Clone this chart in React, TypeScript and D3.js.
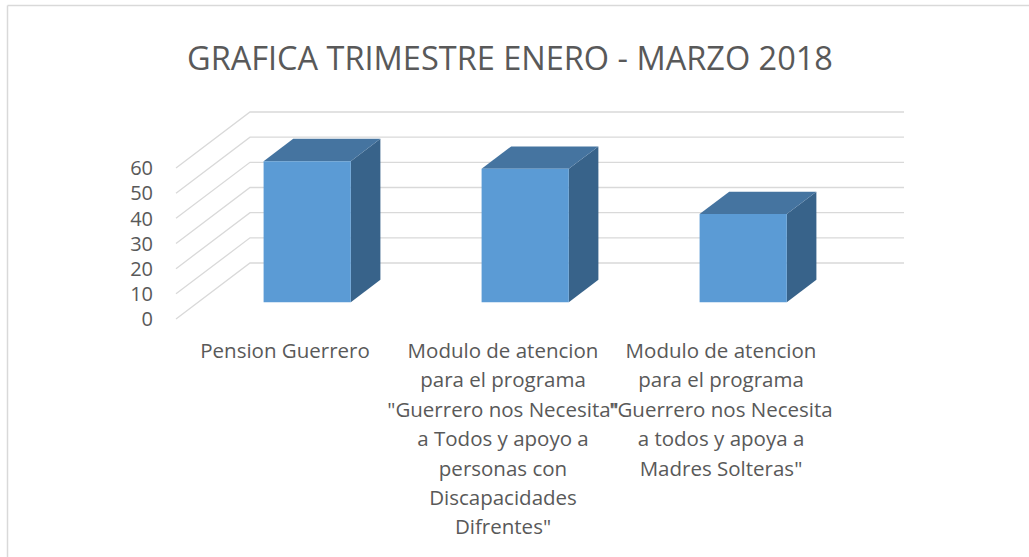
import * as React from "react";
import * as d3 from "d3";

const title = "GRAFICA TRIMESTRE ENERO - MARZO 2018";
const categories = ["Pension Guerrero", "Modulo Discapacidades", "Modulo Madres Solteras"];
const values = [56, 53, 35];
const yTicks = [0, 10, 20, 30, 40, 50, 60];
const categoryLabels = [
  ["Pension Guerrero"],
  [
    "Modulo de atencion",
    "para el programa",
    "\"Guerrero nos Necesita\"",
    "a Todos y apoyo a",
    "personas con",
    "Discapacidades",
    "Difrentes\"",
  ],
  [
    "Modulo de atencion",
    "para el programa",
    "\"Guerrero nos Necesita",
    "a todos y apoya a",
    "Madres Solteras\"",
  ],
];

const W = 1029;
const H = 557;
const font = "'Open Sans', sans-serif";
const textColor = "#595959";
const gridColor = "#d9d9d9";

export default function App() {
  // front plane of the floor / left wall
  const x = d3
    .scaleBand<string>()
    .domain(categories)
    .range([176, 830])
    .paddingInner(0.6)
    .paddingOuter(0.3);
  const y = d3.scaleLinear().domain([0, 60]).range([319, 168]);
  // depth: 0 = front, 1 = back wall
  const dx = d3.scaleLinear().domain([0, 1]).range([0, 74]);
  const dy = d3.scaleLinear().domain([0, 1]).range([0, -56]);
  const f0 = 0.3;
  const f1 = 0.7;
  const xLeft = x(categories[0])! - x.step() * 0.3;
  const xRight = xLeft + x.step() * categories.length;

  const pt = (px: number, py: number, f: number) => `${px + dx(f)},${py + dy(f)}`;

  return (
    <div style={{ position: "absolute", left: 0, top: 0 }}>
      <svg width={W} height={H} style={{ display: "block", background: "#fff" }}>
        <line x1={7.5} y1={5.5} x2={W} y2={5.5} stroke={gridColor} strokeWidth={1.5} />
        <line x1={7.5} y1={5.5} x2={7.5} y2={H} stroke={gridColor} strokeWidth={1.5} />

        <text
          x={510}
          y={70}
          textAnchor="middle"
          fontFamily={font}
          fontSize={32.5}
          fill={textColor}
        >
          {title}
        </text>

        <g>
          {yTicks.map((t) => (
            <g key={"grid-" + t}>
              <polyline
                points={`${xLeft},${y(t)} ${pt(xLeft, y(t), 1)} ${xRight + dx(1)},${y(t) + dy(1)}`}
                fill="none"
                stroke={gridColor}
                strokeWidth={1.3}
              />
              <text
                x={153}
                y={y(t)}
                dy="0.36em"
                textAnchor="end"
                fontFamily={font}
                fontSize={20}
                fill={textColor}
              >
                {t}
              </text>
            </g>
          ))}
        </g>

        <g>
          {categories.map((c, i) => {
            const x0 = x(c)!;
            const x1 = x0 + x.bandwidth();
            const yb = y(0);
            const yt = y(values[i]);
            const front = [pt(x0, yb, f0), pt(x1, yb, f0), pt(x1, yt, f0), pt(x0, yt, f0)].join(" ");
            const top = [pt(x0, yt, f0), pt(x1, yt, f0), pt(x1, yt, f1), pt(x0, yt, f1)].join(" ");
            const side = [pt(x1, yb, f0), pt(x1, yb, f1), pt(x1, yt, f1), pt(x1, yt, f0)].join(" ");
            return (
              <g key={c}>
                <polygon points={side} fill="#38638A" />
                <polygon points={top} fill="#4574A0" />
                <polygon points={front} fill="#5B9BD5" />
              </g>
            );
          })}
        </g>

        <g>
          {categories.map((c, i) => {
            const cx = x(c)! + x.bandwidth() / 2;
            return (
              <text
                key={"lab-" + c}
                textAnchor="middle"
                fontFamily={font}
                fontSize={20.5}
                fill={textColor}
              >
                {categoryLabels[i].map((line, j) => (
                  <tspan key={j} x={cx} y={358 + j * 29.4}>
                    {line}
                  </tspan>
                ))}
              </text>
            );
          })}
        </g>
      </svg>
    </div>
  );
}
